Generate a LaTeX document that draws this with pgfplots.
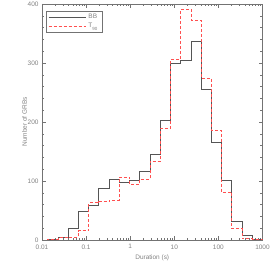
\documentclass[border=0pt]{standalone}
\usepackage{pgfplots}
\pgfplotsset{compat=1.18}
\usepackage{fontspec}
\setmainfont{Liberation Sans}
\definecolor{axgray}{RGB}{115,115,115}
\definecolor{txtgray}{RGB}{130,130,130}
\definecolor{bbcol}{RGB}{85,85,85}
\definecolor{tcol}{RGB}{255,80,80}
\pgfplotsset{mylegimg/.style={legend image code/.code={\draw[##1] (4bp,0bp) -- (41bp,0bp);}}}
\begin{document}
\begin{tikzpicture}
\begin{axis}[
  scale only axis,
  width=220.5bp, height=236bp,
  xmode=log, xmin=0.01, xmax=1000,
  ymin=0, ymax=400,
  xtick={0.01,0.1,1,10,100,1000},
  xticklabels={0.01,0.1,1,10,100,1000},
  ytick={0,100,200,300,400},
  minor y tick num=4,
  major tick length=4bp, minor tick length=2.2bp,
  axis line style={axgray, line width=0.6pt},
  every tick/.style={axgray, line width=0.5pt},
  tick label style={font=\fontsize{6.5}{7}\selectfont, text=txtgray},
  /pgf/number format/assume math mode=true,
  xlabel={Duration (s)},
  ylabel={Number of GRBs},
  label style={font=\fontsize{6.5}{7}\selectfont, text=txtgray},
  xlabel style={yshift=1.5bp},
  ylabel style={yshift=-6bp},
  xticklabel style={yshift=-1bp},
  legend style={at={(0.018,0.972)}, anchor=north west, draw=axgray, line width=0.6pt,
    font=\fontsize{6.5}{7}\selectfont, text=txtgray, inner xsep=2pt, inner ysep=1.5pt, row sep=-1pt,
    nodes={inner xsep=2.5bp}},
  legend cell align=left,
]
\addplot[const plot, mylegimg, bbcol, line width=0.7pt] coordinates {
(0.01,0) (0.013428,1) (0.022909,4) (0.039084,20) (0.066681,48) (0.11376,59)
(0.19409,88) (0.33113,103) (0.56494,97) (0.96383,101) (1.6444,116) (2.8054,146)
(4.7863,202) (8.1658,299) (13.932,305) (23.768,337) (40.551,255) (69.183,166)
(118.03,101) (201.37,32) (343.56,8) (586.14,1) (1000,1)
};
\addlegendentry{BB\hspace{4bp}}
\addplot[const plot, mylegimg, tcol, line width=0.7pt, dash pattern=on 3bp off 2bp] coordinates {
(0.01,0) (0.013428,1) (0.022909,4) (0.039084,5) (0.066681,16) (0.11376,63)
(0.19409,65) (0.33113,67) (0.56494,107) (0.96383,94) (1.6444,103) (2.8054,134)
(4.7863,189) (8.1658,306) (13.932,391) (23.768,372) (40.551,274) (69.183,186)
(118.03,81) (201.37,19) (343.56,2) (586.14,1) (1000,1)
};
\addlegendentry{T\raisebox{-0.7ex}{\fontsize{4.5}{5}\selectfont 90}}
\end{axis}
\pgfresetboundingbox
\path[use as bounding box] ([xshift=-42bp,yshift=-24bp]current axis.south west) rectangle ([xshift=11.5bp,yshift=4bp]current axis.north east);
\end{tikzpicture}
\end{document}
